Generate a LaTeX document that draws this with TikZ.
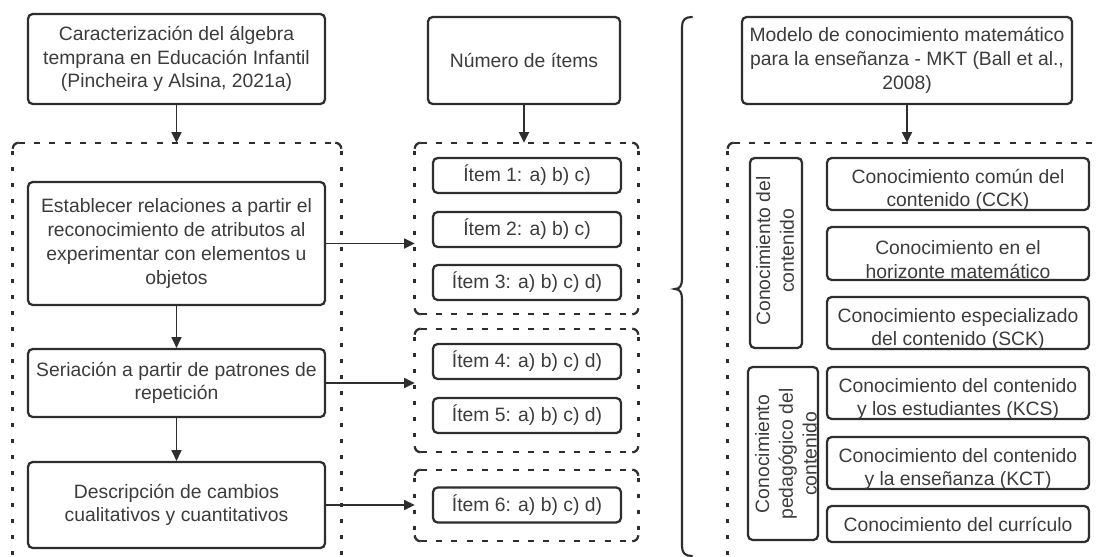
\documentclass[tikz,border=0pt]{standalone}
\usepackage{fontspec}
\setmainfont{Liberation Sans}
\usetikzlibrary{arrows.meta}
\definecolor{linec}{HTML}{2E2E2E}
\definecolor{textc}{HTML}{3C3C3C}

% dashed frame around a (frameless) container node: long dashes on the
% horizontal sides, short dashes on the vertical sides, solid round corners
\newcommand\dframe[1]{%
  \draw[hd] ([xshift=4.5pt]#1.north west) -- ([xshift=-4.5pt]#1.north east);
  \draw[hd] ([xshift=4.5pt]#1.south west) -- ([xshift=-4.5pt]#1.south east);
  \draw[vd] ([yshift=-4.5pt]#1.north west) -- ([yshift=4.5pt]#1.south west);
  \draw[vd] ([yshift=-4.5pt]#1.north east) -- ([yshift=4.5pt]#1.south east);
  \draw[corner] ([yshift=-4.5pt]#1.north west) |- ([xshift=4.5pt]#1.north west);
  \draw[corner] ([xshift=-4.5pt]#1.north east) -| ([yshift=-4.5pt]#1.north east);
  \draw[corner] ([yshift=4.5pt]#1.south west) |- ([xshift=4.5pt]#1.south west);
  \draw[corner] ([xshift=-4.5pt]#1.south east) -| ([yshift=4.5pt]#1.south east);
}

\begin{document}
\begin{tikzpicture}[x=0.75pt,y=-0.75pt,
  txt/.style={text=textc,align=center,inner sep=0pt,
              font=\fontsize{14.5}{17.8}\selectfont},
  box/.style={draw=linec,line width=1.7pt,rounded corners=3.5pt,
              inner sep=0pt,txt},
  wh/.style 2 args={minimum width=#1*0.75pt,minimum height=#2*0.75pt},
  cont/.style={inner sep=0pt},
  hd/.style={draw=linec,line width=1.6pt,dash pattern=on 4.5pt off 7pt},
  vd/.style={draw=linec,line width=2pt,dash pattern=on 3pt off 9pt,dash phase=-2pt},
  corner/.style={draw=linec,line width=1.7pt,rounded corners=4.5pt},
  arr/.style={draw=linec,line width=1.3pt,-{Triangle[length=8pt,width=7.5pt]}},
  brace/.style={draw=linec,line width=1.6pt,line cap=round}
]
\clip (0,0) rectangle (1097,557);
\fill[white] (0,0) rectangle (1097,557);

% ---------- left column: early algebra ----------
\node[box,wh={297}{90}] (carac) at (176.5,59)
  {Caracterización del álgebra\\temprana en Educación Infantil\\(Pincheira y Alsina, 2021a)};
\node[cont,wh={328}{432}] (contL) at (177,359) {};
\dframe{contL}
\node[box,wh={297}{123}] (estab) at (176.5,243.5)
  {Establecer relaciones a partir el\\reconocimiento de atributos al\\experimentar con elementos u\\objetos};
\node[box,wh={297}{68}] (seria) at (176.5,383)
  {Seriación a partir de patrones de\\repetición};
\node[box,wh={297}{86}] (descr) at (176.5,505)
  {Descripción de cambios\\cualitativos y cuantitativos};

\draw[arr] (carac.south) -- (carac.south |- contL.north);
\draw[arr] (estab.south) -- (seria.north);
\draw[arr] (seria.south) -- (descr.north);

% ---------- middle column: items ----------
\node[box,wh={192}{87}] (numit) at (524,60.5) {Número de ítems};
\node[cont,wh={223}{171}] (cont1) at (526.5,228.5) {};
\node[cont,wh={223}{123}] (cont2) at (526.5,390.5) {};
\node[cont,wh={223}{71}] (cont3) at (526.5,505.5) {};
\dframe{cont1}
\dframe{cont2}
\dframe{cont3}
\node[box,wh={188}{35}] (it1) at (527,175.5) {Ítem 1: a) b) c)};
\node[box,wh={188}{35}] (it2) at (527,229.5) {Ítem 2: a) b) c)};
\node[box,wh={188}{35}] (it3) at (527,282.5) {Ítem 3: a) b) c) d)};
\node[box,wh={188}{35}] (it4) at (527,361.5) {Ítem 4: a) b) c) d)};
\node[box,wh={188}{35}] (it5) at (527,415.5) {Ítem 5: a) b) c) d)};
\node[box,wh={188}{35}] (it6) at (527,505) {Ítem 6: a) b) c) d)};

\draw[arr] (numit.south) -- (numit.south |- cont1.north);
\draw[arr] (estab.east) -- (estab.east -| cont1.west);
\draw[arr] (seria.east) -- (seria.east -| cont2.west);
\draw[arr] (descr.east) -- (descr.east -| cont3.west);

% ---------- brace ----------
\coordinate (bt) at (692,17);
\coordinate (bb) at (692,556);
\coordinate (btip) at (675,289);
\draw[brace] (bt) .. controls (685,17) and (682,20) .. (682,27)
  -- (682,279) .. controls (682,285) and (680,289) .. (btip)
  .. controls (680,289) and (682,293) .. (682,299)
  -- (682,546) .. controls (682,553) and (685,556) .. (bb);

% ---------- right column: MKT ----------
\node[box,wh={330}{87}] (mkt) at (907,60.5)
  {Modelo de conocimiento matemático\\para la enseñanza - MKT (Ball et al.,\\2008)};
\node[cont,wh={382}{432}] (contR) at (919,359) {};
\dframe{contR}
\draw[arr] (mkt.south) -- (mkt.south |- contR.north);

\node[box,wh={52}{190}] (v1) at (776,253) {};
\node[txt,rotate=90] (v1t) at (775,251) {Conocimiento del\\contenido};
\node[box,wh={70}{173}] (v2) at (783,453.5) {};
\node[txt,rotate=90] (v2t) at (786,454) {Conocimiento\\pedagógico del\\contenido};

\node[box,wh={262}{52}] (cck) at (958,184) {};
\node[txt] (cckt) at (958,190) {Conocimiento común del\\contenido (CCK)};
\node[box,wh={262}{53}] (hor) at (958,253.5) {};
\node[txt] (hort) at (958,259.5) {Conocimiento en el\\horizonte matemático};
\node[box,wh={262}{52}] (sck) at (958,323) {};
\node[txt] (sckt) at (958,329) {Conocimiento especializado\\del contenido (SCK)};
\node[box,wh={262}{52}] (kcs) at (958,393) {};
\node[txt] (kcst) at (958,399) {Conocimiento del contenido\\y los estudiantes (KCS)};
\node[box,wh={262}{52}] (kct) at (958,463) {};
\node[txt] (kctt) at (958,469) {Conocimiento del contenido\\y la enseñanza (KCT)};
\node[box,wh={262}{36}] (cur) at (958,524) {Conocimiento del currículo};
\end{tikzpicture}
\end{document}
